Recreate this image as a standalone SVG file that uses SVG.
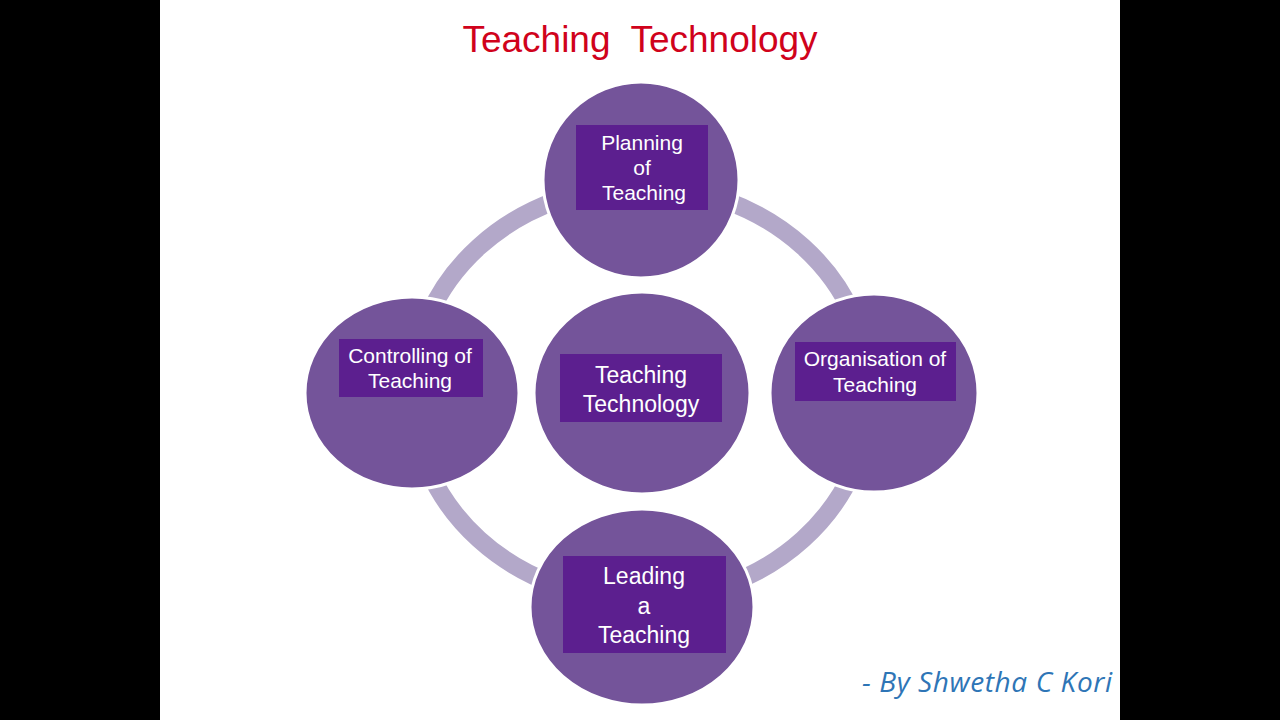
<svg xmlns="http://www.w3.org/2000/svg" width="1280" height="720" viewBox="0 0 1280 720">
<style>
.bg{fill:#ffffff}
.bar{fill:#000000}
.title{font-family:"Liberation Sans",Arial,sans-serif;font-size:37px;fill:#d0021b;text-anchor:middle;white-space:pre}
.node{fill:#74549a;stroke:#ffffff;stroke-width:3}
.box{fill:#5c1f8f}
.lbl{font-family:"Liberation Sans",Arial,sans-serif;fill:#ffffff;text-anchor:middle}
.ring{fill:none;stroke:#b3a8c9;stroke-width:18}
.sig{font-family:"Open Sans","Liberation Sans",sans-serif;font-style:italic;font-size:28px;fill:#2e75b6;text-anchor:end}
</style>
<rect class="bg" x="0" y="0" width="1280" height="720"/>
<rect class="bar" x="0" y="0" width="160" height="720"/>
<rect class="bar" x="1120" y="0" width="160" height="720"/>
<text class="title" x="640" y="52">Teaching  Technology</text>
<g id="connectors">
<ellipse class="ring" cx="641" cy="393" rx="229" ry="207"/>
</g>
<g id="node-planning">
<ellipse class="node" cx="641" cy="180" rx="98" ry="98"/>
<rect class="box" x="576" y="125" width="132" height="85"/>
<text class="lbl" font-size="21" x="642" y="150">Planning</text>
<text class="lbl" font-size="21" x="642" y="175">of</text>
<text class="lbl" font-size="21" x="644" y="200">Teaching</text>
</g>
<g id="node-controlling">
<ellipse class="node" cx="412" cy="393" rx="107" ry="96"/>
<rect class="box" x="339" y="339" width="144" height="58"/>
<text class="lbl" font-size="21" x="410" y="363">Controlling of</text>
<text class="lbl" font-size="21" x="410" y="388">Teaching</text>
</g>
<g id="node-organisation">
<ellipse class="node" cx="874" cy="393" rx="104" ry="99"/>
<rect class="box" x="795" y="342" width="161" height="59"/>
<text class="lbl" font-size="21" x="875" y="366">Organisation of</text>
<text class="lbl" font-size="21" x="875" y="392">Teaching</text>
</g>
<g id="node-leading">
<ellipse class="node" cx="642" cy="607" rx="112" ry="98"/>
<rect class="box" x="563" y="556" width="163" height="97"/>
<text class="lbl" font-size="23" x="644" y="584">Leading</text>
<text class="lbl" font-size="23" x="644" y="614">a</text>
<text class="lbl" font-size="23" x="644" y="643">Teaching</text>
</g>
<g id="node-center">
<ellipse class="node" cx="642" cy="393" rx="108" ry="101"/>
<rect class="box" x="560" y="354" width="162" height="68"/>
<text class="lbl" font-size="23" x="641" y="383">Teaching</text>
<text class="lbl" font-size="23" x="641" y="412">Technology</text>
</g>
<text class="sig" x="1112" y="692" textLength="250">- By Shwetha C Kori</text>
</svg>
